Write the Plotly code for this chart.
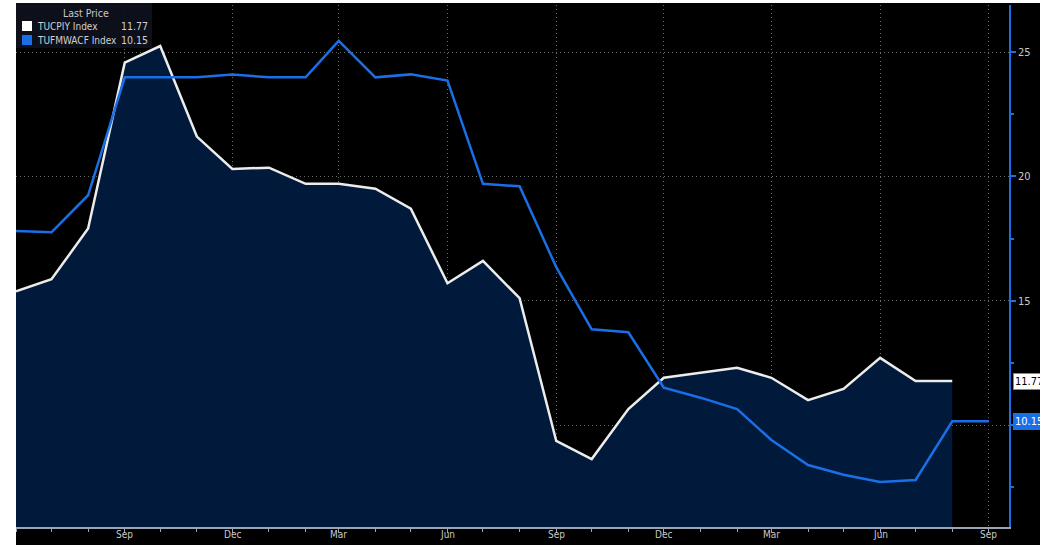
import pandas as pd
import plotly.graph_objects as go

# ---- data ----
months = pd.date_range("2018-06-01", "2020-09-01", freq="MS")
tucpiy = [15.38, 15.86, 17.9, 24.57, 25.24, 21.6, 20.3, 20.35, 19.7, 19.7, 19.5, 18.7,
          15.7, 16.6, 15.1, 9.36, 8.63, 10.64, 11.9, 12.1, 12.3, 11.9, 11.0, 11.45,
          12.7, 11.77, 11.77]
tufmwacf = [17.8, 17.75, 19.24, 23.98, 23.98, 23.98, 24.1, 23.98, 23.98, 25.45, 23.98, 24.1,
            23.85, 19.7, 19.6, 16.35, 13.85, 13.73, 11.5, 11.1, 10.64, 9.4, 8.39, 8.0,
            7.71, 7.79, 10.15, 10.15]
names = ["TUCPIY Index", "TUFMWACF Index"]
last_vals = ["11.77", "10.15"]
quarter_ticks = pd.date_range("2018-09-01", "2020-09-01", freq="3MS")
quarter_text = [d.strftime("%b") for d in quarter_ticks]
year_labels = ["2018", "2019", "2020"]
year_pos = ["2018-09-01", "2019-06-01", "2020-04-20"]

WHITE = "#ececec"
BLUE = "#1a6fe6"
FILL = "#011a3b"
GRID = "#6a6a6a"
FONT = "DejaVu Sans Condensed, Liberation Sans Narrow, Arial Narrow, sans-serif"

fig = go.Figure()
fig.add_trace(go.Scatter(x=months[:len(tucpiy)], y=tucpiy, mode="lines",
                         line=dict(color=WHITE, width=2.5), fill="tozeroy",
                         fillcolor=FILL, name=names[0]))
fig.add_trace(go.Scatter(x=months, y=tufmwacf, mode="lines",
                         line=dict(color=BLUE, width=2.5), name=names[1]))

fig.update_layout(
    width=1040, height=545,
    margin=dict(l=16, r=31, t=5, b=18, autoexpand=False),
    paper_bgcolor="black", plot_bgcolor="black",
    showlegend=False,
    font=dict(family=FONT, size=11, color="#c8c8c8"),
    xaxis=dict(
        range=["2018-06-01", "2020-09-18"],
        tickvals=quarter_ticks, ticktext=quarter_text, showticklabels=False,
        showgrid=True, gridcolor=GRID, griddash="1px,3px", gridwidth=1,
        showline=True, linecolor="#9aa4b4", linewidth=1.5,
        ticks="outside", ticklen=4, tickcolor="#9aa4b4",
        minor=dict(dtick="M1", ticks="outside", ticklen=3, tickcolor="#9aa4b4", showgrid=False),
        zeroline=False, automargin=False,
    ),
    yaxis=dict(
        side="right", range=[5.9, 26.89],
        tickvals=[10, 15, 20, 25],
        showgrid=True, gridcolor=GRID, griddash="1px,3px", gridwidth=1,
        showline=True, linecolor=BLUE, linewidth=1.5,
        ticks="outside", ticklen=5, tickwidth=2, tickcolor=BLUE,
        minor=dict(tickvals=[7.5, 12.5, 17.5, 22.5], ticks="outside", ticklen=3,
                   tickcolor=BLUE, showgrid=False),
        tickfont=dict(size=11, color="#c8c8c8"),
        zeroline=False, automargin=False,
    ),
)

shapes = [
    # white margin strips (left and top)
    dict(type="rect", xref="paper", yref="paper", x0=-0.05, x1=0, y0=-0.1, y1=1.1,
         fillcolor="white", line_width=0, layer="above"),
    dict(type="rect", xref="paper", yref="paper", x0=-0.05, x1=1.1, y0=1.0038, y1=1.1,
         fillcolor="white", line_width=0, layer="above"),
    # legend box
    dict(type="rect", xref="paper", yref="paper", x0=0, x1=136 / 993, y0=1 - 43 / 522, y1=1.0038,
         fillcolor="rgba(14,16,28,0.92)", line_width=0, layer="above"),
    dict(type="rect", xref="paper", yref="paper", x0=6 / 993, x1=16 / 993,
         y0=1 - 26 / 522, y1=1 - 16 / 522, fillcolor="white", line_width=0, layer="above"),
    dict(type="rect", xref="paper", yref="paper", x0=6 / 993, x1=16 / 993,
         y0=1 - 40 / 522, y1=1 - 30 / 522, fillcolor=BLUE, line_width=0, layer="above"),
]
fig.update_layout(shapes=shapes)

ann = [
    dict(xref="paper", yref="paper", x=70 / 993, y=1 - 8 / 522, text="Last Price",
         showarrow=False, xanchor="center", yanchor="middle",
         font=dict(size=10.5, color="#c8c8c8")),
    dict(xref="paper", yref="paper", x=19 / 993, y=1 - 21 / 522, text=names[0],
         showarrow=False, xanchor="left", yanchor="middle", font=dict(size=10, color="#d0d0d0")),
    dict(xref="paper", yref="paper", x=134 / 993, y=1 - 21 / 522, text=last_vals[0],
         showarrow=False, xanchor="right", yanchor="middle", font=dict(size=10.5, color="#d0d0d0")),
    dict(xref="paper", yref="paper", x=19 / 993, y=1 - 35 / 522, text=names[1],
         showarrow=False, xanchor="left", yanchor="middle", font=dict(size=10, color="#d0d0d0")),
    dict(xref="paper", yref="paper", x=134 / 993, y=1 - 35 / 522, text=last_vals[1],
         showarrow=False, xanchor="right", yanchor="middle", font=dict(size=10.5, color="#d0d0d0")),
    # end-of-line value tags
    dict(xref="paper", yref="y", x=1, xshift=4, y=tucpiy[-1], text=last_vals[0],
         showarrow=False, xanchor="left", yanchor="middle", bgcolor="white",
         bordercolor="#888", borderwidth=1, borderpad=1, font=dict(size=11, color="black")),
    dict(xref="paper", yref="y", x=1, xshift=4, y=tufmwacf[-1], text=last_vals[1],
         showarrow=False, xanchor="left", yanchor="middle", bgcolor=BLUE,
         bordercolor=BLUE, borderwidth=1, borderpad=1, font=dict(size=11, color="white")),
]
# x tick labels (quarters) and year labels
for d, t in zip(quarter_ticks, quarter_text):
    ann.append(dict(xref="x", yref="paper", x=d, y=-7 / 522, text=t, showarrow=False,
                    xanchor="center", yanchor="middle", font=dict(size=10, color="#c8c8c8")))
for yl, yp in zip(year_labels, year_pos):
    ann.append(dict(xref="x", yref="paper", x=yp, y=-15 / 522, text=yl, showarrow=False,
                    xanchor="center", yanchor="top", font=dict(size=10, color="#c8c8c8")))
fig.update_layout(annotations=ann)

fig.write_html("out.html", post_script="document.body.style.margin='0px';",
               config={"displayModeBar": False})
